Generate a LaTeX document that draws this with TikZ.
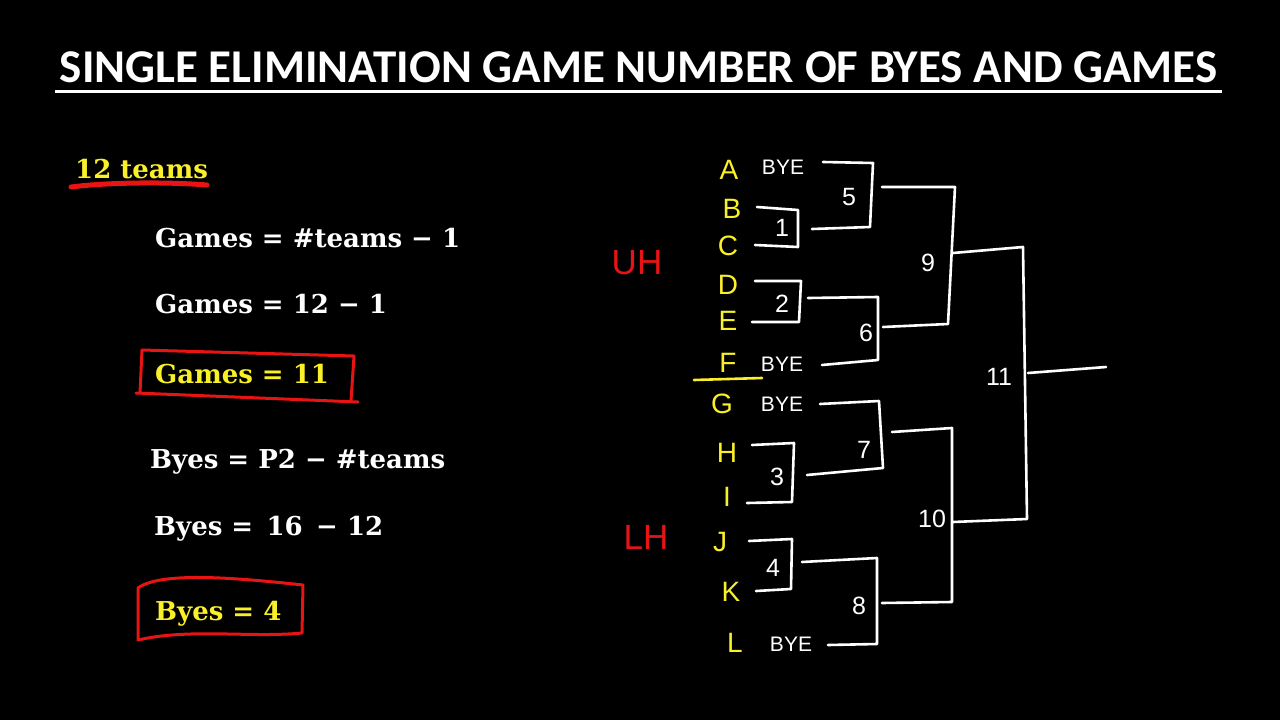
\documentclass[tikz,border=0pt]{standalone}
\usepackage{fontspec}
\setmainfont{Liberation Sans}
\newfontfamily\titlefont{Carlito}
\newfontfamily\eqfont{DejaVu Serif}
\newfontfamily\handfont{Liberation Sans}
\definecolor{hlyellow}{RGB}{250,240,40}
\definecolor{penred}{RGB}{232,20,20}
\begin{document}
\begin{tikzpicture}[x=1pt,y=-1pt,
  eq/.style={anchor=base west, inner sep=0pt, font=\eqfont\bfseries\fontsize{26}{32}\selectfont, text=white},
  eqy/.style={eq, text=hlyellow},
  team/.style={inner sep=0pt, font=\handfont\fontsize{28}{30}\selectfont, text=hlyellow},
  byelbl/.style={inner sep=0pt, font=\handfont\fontsize{21}{24}\selectfont, text=white},
  gamenum/.style={inner sep=0pt, font=\handfont\fontsize{25}{28}\selectfont, text=white},
  half/.style={inner sep=0pt, font=\handfont\fontsize{35}{40}\selectfont, text=penred},
  pen/.style={white, line width=2.6pt, line cap=round, line join=round},
  redpen/.style={penred, line width=3pt, line cap=round, line join=round},
  yelpen/.style={hlyellow, line width=2.6pt, line cap=round}]
\fill[black] (0,0) rectangle (1280,720);
\useasboundingbox (0,0) rectangle (1280,720);

% title
\node[anchor=base, inner sep=0pt, text=white, font=\titlefont\bfseries\fontsize{47}{52}\selectfont] (title) at (638.5,82) {SINGLE ELIMINATION GAME NUMBER OF BYES AND GAMES};
\coordinate (tul1) at (55,91);
\coordinate (tul2) at (1222,91);
\draw[white, line width=3pt] (tul1) -- (tul2);

% left column
\node[eqy] (teams) at (75,178) {12 teams};
\coordinate (tu1) at (71,187);
\coordinate (tu2) at (207,185);
\draw[penred, line width=5pt, line cap=round] (tu1) .. controls (110,182) and (170,182) .. (tu2);

\node[eq] (e1) at (155,247) {Games = \#teams − 1};
\node[eq] (e2) at (155,313) {Games = 12 − 1};
\node[eqy] (e3) at (155,383) {Games = 11};
\coordinate (r1a) at (142,350);
\coordinate (r1b) at (354,356);
\coordinate (r1c) at (351,401);
\coordinate (r1d) at (358,402);
\coordinate (r1e) at (136,393);
\coordinate (r1f) at (140,393);
\draw[redpen] (r1a) -- (r1b) -- (r1c);
\draw[redpen] (r1d) -- (r1e);
\draw[redpen] (r1a) -- (r1f);

\node[eq] (e4) at (150,468) {Byes = P2 − \#teams};
\node[eq] (e5) at (154,535) {Byes =\, 16 \,− 12};
\node[eqy] (e6) at (155,620) {Byes = 4};
\coordinate (r2a) at (138,588);
\coordinate (r2b) at (303,585);
\coordinate (r2c) at (302,633);
\coordinate (r2d) at (138,640);
\draw[redpen] (r2a) .. controls (160,572) and (230,577) .. (r2b) -- (r2c)
  .. controls (250,638) and (190,628) .. (r2d) -- cycle;

% halves
\node[half] (uh) at (637,263) {UH};
\node[half] (lh) at (646,537) {LH};

% teams
\node[team] (A) at (729,170) {A};
\node[team] (B) at (732,209) {B};
\node[team] (C) at (728,246) {C};
\node[team] (D) at (728,285) {D};
\node[team] (E) at (728,321) {E};
\node[team] (F) at (728,363) {F};
\node[team] (G) at (722,404) {G};
\node[team] (H) at (727,453) {H};
\node[team] (I) at (727,497) {I};
\node[team] (J) at (720,542) {J};
\node[team] (K) at (731,592) {K};
\node[team] (L) at (735,643) {L};
\coordinate (fu1) at (694,380);
\coordinate (fu2) at (762,378);
\draw[yelpen] (fu1) -- (fu2);

\node[byelbl] (byeA) at (783,167) {BYE};
\node[byelbl] (byeF) at (782,364) {BYE};
\node[byelbl] (byeG) at (782,404) {BYE};
\node[byelbl] (byeL) at (791,644) {BYE};

% round 1
\coordinate (b1) at (757,207); \coordinate (g1t) at (798,210);
\coordinate (g1b) at (798,247); \coordinate (c1) at (755,245);
\draw[pen] (b1) -- (g1t) -- (g1b) -- (c1);
\node[gamenum] (n1) at (782,228) {1};

\coordinate (d1) at (755,281); \coordinate (g2t) at (801,281);
\coordinate (g2b) at (799,322); \coordinate (e1p) at (752,322);
\draw[pen] (d1) -- (g2t) -- (g2b) -- (e1p);
\node[gamenum] (n2) at (782,304) {2};

\coordinate (h1) at (752,445); \coordinate (g3t) at (794,443);
\coordinate (g3b) at (792,502); \coordinate (i1) at (747,503);
\draw[pen] (h1) -- (g3t) -- (g3b) -- (i1);
\node[gamenum] (n3) at (777,477) {3};

\coordinate (j1) at (749,541); \coordinate (g4t) at (792,539);
\coordinate (g4b) at (791,589); \coordinate (k1) at (756,591);
\draw[pen] (j1) -- (g4t) -- (g4b) -- (k1);
\node[gamenum] (n4) at (773,568) {4};

% round 2
\coordinate (a1) at (823,162); \coordinate (g5t) at (873,163);
\coordinate (g5b) at (870,227); \coordinate (w1) at (812,229);
\draw[pen] (a1) -- (g5t) -- (g5b) -- (w1);
\node[gamenum] (n5) at (849,197) {5};

\coordinate (w2) at (808,298); \coordinate (g6t) at (878,297);
\coordinate (g6b) at (878,360); \coordinate (f1) at (822,365);
\draw[pen] (w2) -- (g6t) -- (g6b) -- (f1);
\node[gamenum] (n6) at (866,333) {6};

\coordinate (gg1) at (820,404); \coordinate (g7t) at (879,401);
\coordinate (g7b) at (883,468); \coordinate (w3) at (807,475);
\draw[pen] (gg1) -- (g7t) -- (g7b) -- (w3);
\node[gamenum] (n7) at (864,450) {7};

\coordinate (w4) at (802,562); \coordinate (g8t) at (877,558);
\coordinate (g8b) at (877,644); \coordinate (l1) at (828,645);
\draw[pen] (w4) -- (g8t) -- (g8b) -- (l1);
\node[gamenum] (n8) at (859,606) {8};

% round 3
\coordinate (w5) at (882,187); \coordinate (g9t) at (955,187);
\coordinate (g9b) at (948,324); \coordinate (w6) at (883,327);
\draw[pen] (w5) -- (g9t) -- (g9b) -- (w6);
\node[gamenum] (n9) at (928,263) {9};

\coordinate (w7) at (892,432); \coordinate (g10t) at (952,428);
\coordinate (g10b) at (952,602); \coordinate (w8) at (882,603);
\draw[pen] (w7) -- (g10t) -- (g10b) -- (w8);
\node[gamenum] (n10) at (932,519) {10};

% final
\coordinate (w9) at (953,253); \coordinate (g11t) at (1023,247);
\coordinate (g11b) at (1027,519); \coordinate (w10) at (953,522);
\draw[pen] (w9) -- (g11t) -- (g11b) -- (w10);
\node[gamenum] (n11) at (999,377) {11};
\coordinate (win1) at (1028,373); \coordinate (win2) at (1106,367);
\draw[pen] (win1) -- (win2);
\end{tikzpicture}
\end{document}
